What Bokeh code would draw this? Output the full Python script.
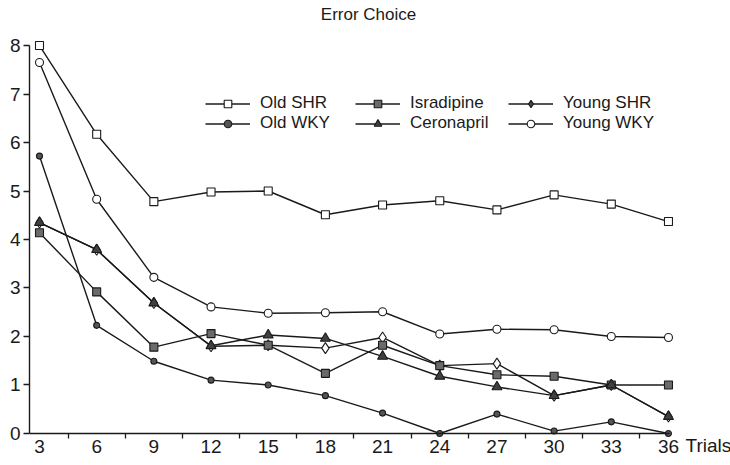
from bokeh.plotting import figure
from bokeh.models import (Range1d, FixedTicker, Legend, LegendItem, Label,
                          ColumnDataSource)
from bokeh.embed import file_html
from bokeh.resources import INLINE

# Mean error choices per block of trials
trials = [3, 6, 9, 12, 15, 18, 21, 24, 27, 30, 33, 36]
old_shr = [8.00, 6.17, 4.78, 4.98, 5.00, 4.51, 4.71, 4.80, 4.61, 4.92, 4.73, 4.37]
old_wky = [5.72, 2.23, 1.49, 1.10, 1.00, 0.78, 0.42, 0.00, 0.40, 0.05, 0.24, 0.00]
isradipine = [4.14, 2.92, 1.78, 2.06, 1.82, 1.24, 1.82, 1.40, 1.21, 1.18, 1.00, 1.00]
ceronapril = [4.35, 3.79, 2.69, 1.81, 2.03, 1.96, 1.59, 1.18, 0.96, 0.78, 1.00, 0.35]
young_shr = [4.35, 3.79, 2.69, 1.80, 1.82, 1.76, 1.98, 1.40, 1.44, 0.78, 1.00, 0.35]
young_wky = [7.65, 4.83, 3.22, 2.61, 2.48, 2.49, 2.51, 2.05, 2.15, 2.14, 2.00, 1.98]

y_ticks = [0, 1, 2, 3, 4, 5, 6, 7, 8]
block_edges = [4.5, 7.5, 10.5, 13.5, 16.5, 19.5, 22.5, 25.5, 28.5, 31.5, 34.5]

TICK_FONT = "Liberation Sans"
TEXT_FONT = "Liberation Sans"
INK = "#1a1a1a"

# The frame fills the whole canvas; both axes are pinned inside it.
X0, X1 = 2.475, 36.05
p = figure(width=730, height=465, output_backend="svg", toolbar_location=None,
           x_range=Range1d(0.954, 39.254), y_range=Range1d(-0.660, 8.928),
           min_border=0)
p.title.visible = False
p.outline_line_color = None
p.xgrid.visible = False
p.ygrid.visible = False
p.background_fill_color = "white"
p.border_fill_color = "white"

# x axis sits on y = 0, labels under each block, tick marks between blocks
xa = p.xaxis[0]
xa.ticker = FixedTicker(ticks=trials, minor_ticks=block_edges)
xa.fixed_location = 0
xa.bounds = (X0, X1)
xa.major_tick_out = 0
xa.major_tick_in = 0
xa.minor_tick_out = 5
xa.minor_tick_in = 0
xa.major_label_standoff = 2
xa.major_label_text_font = TICK_FONT
xa.major_label_text_font_size = "19px"
xa.major_label_text_color = INK

ya = p.yaxis[0]
ya.ticker = FixedTicker(ticks=y_ticks)
ya.fixed_location = X0
ya.bounds = (0, 8)
ya.major_tick_out = 6
ya.major_tick_in = 0
ya.minor_tick_out = 0
ya.minor_tick_in = 0
ya.major_label_standoff = 3
ya.major_label_text_font = TICK_FONT
ya.major_label_text_font_size = "19px"
ya.major_label_text_color = INK

for ax in (xa, ya):
    ax.axis_line_color = INK
    ax.axis_line_width = 1.4
    ax.major_tick_line_color = INK
    ax.major_tick_line_width = 1.3
    ax.minor_tick_line_color = INK
    ax.minor_tick_line_width = 1.3

LW = 1.4

# (name, values, marker, size, plot fill, legend fill)
series = [
    ("Young SHR", young_shr, "diamond", 11, "white", "#444444"),
    ("Old SHR", old_shr, "square", 8, "white", "white"),
    ("Old WKY", old_wky, "circle", 6, "#555555", "#555555"),
    ("Isradipine", isradipine, "square", 8, "#6a6a6a", "#6a6a6a"),
    ("Ceronapril", ceronapril, "triangle", 10, "#404040", "#404040"),
    ("Young WKY", young_wky, "circle", 8, "white", "white"),
]

legend_items = {}
nan = float("nan")
for name, vals, marker, size, fill, lfill in series:
    src = ColumnDataSource(dict(x=trials, y=vals))
    p.line("x", "y", source=src, line_color=INK, line_width=LW)
    p.scatter("x", "y", source=src, marker=marker, size=size,
              fill_color=fill, line_color=INK, line_width=1.1)
    # legend sample: same line and marker style, nothing drawn in the plot
    key = ColumnDataSource(dict(x=[nan], y=[nan]))
    lr = p.line("x", "y", source=key, line_color=INK, line_width=LW)
    sr = p.scatter("x", "y", source=key, marker=marker, size=size,
                   fill_color=lfill, line_color=INK, line_width=1.1)
    legend_items[name] = LegendItem(label=name, renderers=[lr, sr])

columns = [(["Old SHR", "Old WKY"], 205),
           (["Isradipine", "Ceronapril"], 355),
           (["Young SHR", "Young WKY"], 508)]
for names, left in columns:
    lg = Legend(items=[legend_items[n] for n in names],
                location=(left, 332), orientation="vertical",
                glyph_width=45, glyph_height=19, label_height=19,
                label_standoff=10, spacing=0, padding=0, margin=0,
                label_text_font=TEXT_FONT, label_text_font_size="17px",
                label_text_color=INK,
                border_line_color=None, background_fill_alpha=0)
    p.add_layout(lg, "center")

p.add_layout(Label(x=368, y=451, x_units="screen", y_units="screen",
                   text="Error Choice", text_align="center",
                   text_baseline="alphabetic", text_font=TEXT_FONT,
                   text_font_size="17px", text_color=INK))
p.add_layout(Label(x=685, y=20, x_units="screen", y_units="screen",
                   text="Trials", text_align="left",
                   text_baseline="alphabetic", text_font=TICK_FONT,
                   text_font_size="19px", text_color=INK))

open("out.html", "w").write(file_html(p, INLINE))
